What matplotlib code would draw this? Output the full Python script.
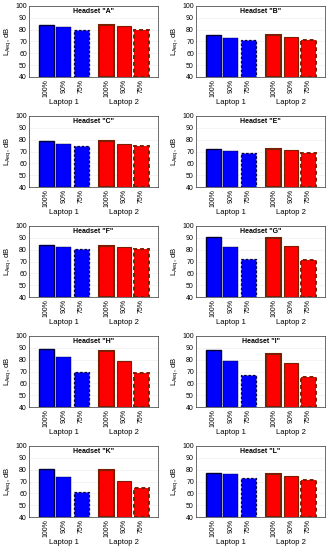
import numpy as np
import matplotlib
matplotlib.use("Agg")
import matplotlib.pyplot as plt

headsets = ["A", "B", "C", "E", "F", "G", "H", "I", "K", "L"]
levels = ["100%", "90%", "75%"]
groups = ["Laptop 1", "Laptop 2"]

laptop1 = [
    [84.0, 82.5, 79.5],
    [75.5, 73.0, 71.5],
    [79.0, 76.5, 75.0],
    [72.0, 70.5, 68.5],
    [84.0, 82.0, 80.5],
    [90.5, 82.0, 72.0],
    [89.0, 82.0, 70.0],
    [88.5, 79.0, 67.0],
    [80.5, 74.0, 61.0],
    [77.5, 76.0, 73.0],
]
laptop2 = [
    [84.0, 83.0, 80.0],
    [75.5, 73.5, 71.5],
    [78.5, 76.5, 75.0],
    [72.5, 71.0, 69.0],
    [83.5, 82.0, 80.5],
    [90.0, 83.0, 71.5],
    [87.5, 79.0, 68.5],
    [84.5, 77.0, 65.0],
    [79.5, 70.5, 64.5],
    [76.0, 74.5, 71.5],
]

plt.rcParams['font.family'] = ['Liberation Sans', 'DejaVu Sans']
fs = 5

fig = plt.figure(figsize=(3.34, 5.5), dpi=100)

pos1 = np.array([1, 2, 3])
pos2 = pos1 + 3.45
styles = ['solid', 'solid', (0, (2, 1.5))]
lws = [1.0, 0.3, 0.9]

for k, name in enumerate(headsets):
    row, col = divmod(k, 2)
    left = (29 if col == 0 else 196) / 334
    width = 129 / 334
    top = (6 + row * 110) / 550
    height = 71 / 550
    ax = fig.add_axes([left, 1 - top - height, width, height])

    for i in range(3):
        ax.bar(pos1[i], laptop1[k][i] - 40, bottom=40, width=0.85, color='#0000ff',
               edgecolor='#000033', linewidth=lws[i], linestyle=styles[i], zorder=3)
        ax.bar(pos2[i], laptop2[k][i] - 40, bottom=40, width=0.85, color='#ff0000',
               edgecolor='#7a2000', linewidth=lws[i] + 0.5, linestyle=styles[i], zorder=3)

    ax.set_ylim(40, 100)
    ax.set_xlim(0, 7.4)
    ax.set_yticks(range(40, 101, 10))
    ax.set_xticks(np.concatenate([pos1, pos2]))
    ax.set_xticklabels(levels + levels, rotation=90)
    ax.tick_params(labelsize=fs, length=0, pad=1.5)
    ax.yaxis.grid(True, color='#ececec', linewidth=0.4, zorder=0)
    ax.set_ylabel('$\\mathregular{L_{Aeq}}$, dB', fontsize=fs + 0.5, labelpad=2)
    ax.text(3.7, 95, 'Headset "%s"' % name, ha='center', va='center',
            fontsize=fs, fontweight='bold')
    for g, p in zip(groups, [pos1[1], pos2[1]]):
        ax.text(p, -0.31, g, transform=ax.get_xaxis_transform(),
                ha='center', va='top', fontsize=fs + 0.5)
    for s in ax.spines.values():
        s.set_linewidth(0.5)
        s.set_color('#333333')

fig.savefig("out.png", dpi=100)
